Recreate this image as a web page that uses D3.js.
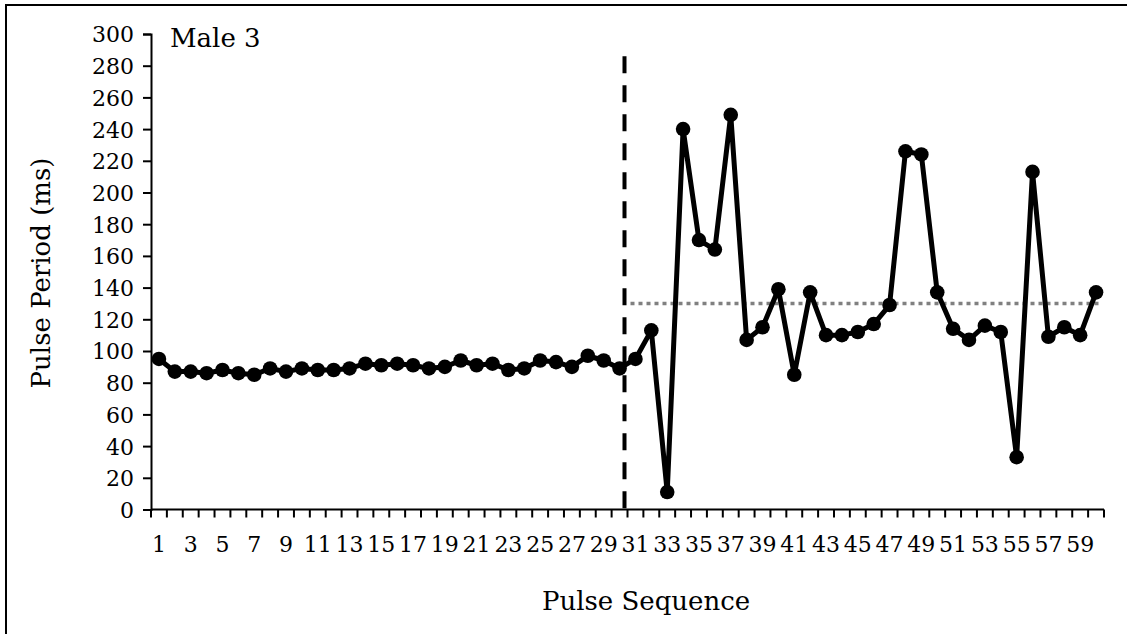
<!DOCTYPE html>
<html>
<head>
<meta charset="utf-8">
<script src="https://cdn.jsdelivr.net/npm/d3@7"></script>
<style>
  html, body { margin: 0; padding: 0; background: #fff; overflow: hidden; }
  svg { display: block; }
  text { font-family: "DejaVu Serif", serif; fill: #000; }
</style>
</head>
<body>
<div id="chart"></div>
<script>
// Pulse periods for Male 3
var pulses = d3.range(1, 61);
var periods = [
    95, 87, 87, 86, 88, 86, 85, 89, 87, 89,
    88, 88, 89, 92, 91, 92, 91, 89, 90, 94,
    91, 92, 88, 89, 94, 93, 90, 97, 94, 89,
    95, 113, 11, 240, 170, 164, 249, 107, 115, 139,
    85, 137, 110, 110, 112, 117, 129, 226, 224, 137,
    114, 107, 116, 112, 33, 213, 109, 115, 110, 137
];
var yTicks = d3.range(0, 301, 20);
var meanAfter = 130;     // grey dotted line
var breakPulse = 31;     // dashed vertical marker
var breakTop = 286;
var panelLabel = "Male 3";

var width = 1127, height = 634;

var svg = d3.select("#chart")
    .append("svg")
    .attr("width", width)
    .attr("height", height);

// outer frame: only the top and left edges fall inside the picture
svg.append("path")
    .attr("d", "M6," + height + "V5H" + width)
    .attr("fill", "none")
    .attr("stroke", "#000")
    .attr("stroke-width", 2);

var xScale = d3.scaleBand().domain(pulses).range([151, 1104]).padding(0);
var yScale = d3.scaleLinear().domain([0, 300]).range([509.5, 34]);
var bw = xScale.bandwidth();

// y axis
var yAxis = svg.append("g")
    .attr("transform", "translate(151,0)")
    .call(d3.axisLeft(yScale).tickValues(yTicks).tickSize(8).tickPadding(9));
yAxis.select(".domain").attr("stroke-width", 2);
yAxis.selectAll(".tick line").attr("stroke-width", 2);
yAxis.selectAll("text")
    .style("font-family", "DejaVu Serif")
    .style("font-size", "22px")
    .attr("dy", "0.36em");

// x axis: labels centred, ticks at category boundaries
var xAxis = svg.append("g")
    .attr("transform", "translate(0," + yScale(0) + ")")
    .call(d3.axisBottom(xScale).tickSize(0).tickPadding(27)
        .tickFormat(function(d) { return d % 2 === 1 ? d : ""; }));
xAxis.select(".domain").remove();
xAxis.selectAll("text")
    .style("font-family", "DejaVu Serif")
    .style("font-size", "22px");

svg.append("line")
    .attr("x1", xScale.range()[0]).attr("x2", xScale.range()[1])
    .attr("y1", yScale(0)).attr("y2", yScale(0))
    .attr("stroke", "#000").attr("stroke-width", 2);

svg.append("g")
    .selectAll("line")
    .data(pulses.concat([61]))
    .enter()
    .append("line")
    .attr("x1", function(d) { return d === 61 ? xScale(60) + bw : xScale(d); })
    .attr("x2", function(d) { return d === 61 ? xScale(60) + bw : xScale(d); })
    .attr("y1", yScale(0))
    .attr("y2", yScale(0) + 8)
    .attr("stroke", "#000")
    .attr("stroke-width", 2);

// dashed divider
svg.append("line")
    .attr("x1", xScale(breakPulse) - 3).attr("x2", xScale(breakPulse) - 3)
    .attr("y1", yScale(breakTop)).attr("y2", yScale(0))
    .attr("stroke", "#000")
    .attr("stroke-width", 4)
    .attr("stroke-dasharray", "17 12");

// mean line after the divider
svg.append("line")
    .attr("x1", xScale(breakPulse) + 3)
    .attr("x2", xScale(60) + bw - 4)
    .attr("y1", yScale(meanAfter)).attr("y2", yScale(meanAfter))
    .attr("stroke", "#808080")
    .attr("stroke-width", 3.5)
    .attr("stroke-dasharray", "4 4");

// series
var cx = function(d, i) { return xScale(pulses[i]) + bw / 2; };
var line = d3.line()
    .x(cx)
    .y(function(d) { return yScale(d); });

svg.append("path")
    .datum(periods)
    .attr("d", line)
    .attr("fill", "none")
    .attr("stroke", "#000")
    .attr("stroke-width", 5)
    .attr("stroke-linejoin", "round");

svg.append("g")
    .selectAll("circle")
    .data(periods)
    .enter()
    .append("circle")
    .attr("cx", cx)
    .attr("cy", function(d) { return yScale(d); })
    .attr("r", 7.3)
    .attr("fill", "#000");

// titles
svg.append("text")
    .attr("x", 170).attr("y", 47)
    .style("font-size", "26px")
    .text(panelLabel);

svg.append("text")
    .attr("x", 646).attr("y", 610)
    .attr("text-anchor", "middle")
    .style("font-size", "26px")
    .text("Pulse Sequence");

svg.append("text")
    .attr("transform", "translate(50,273) rotate(-90)")
    .attr("text-anchor", "middle")
    .style("font-size", "26px")
    .text("Pulse Period (ms)");
</script>
</body>
</html>
